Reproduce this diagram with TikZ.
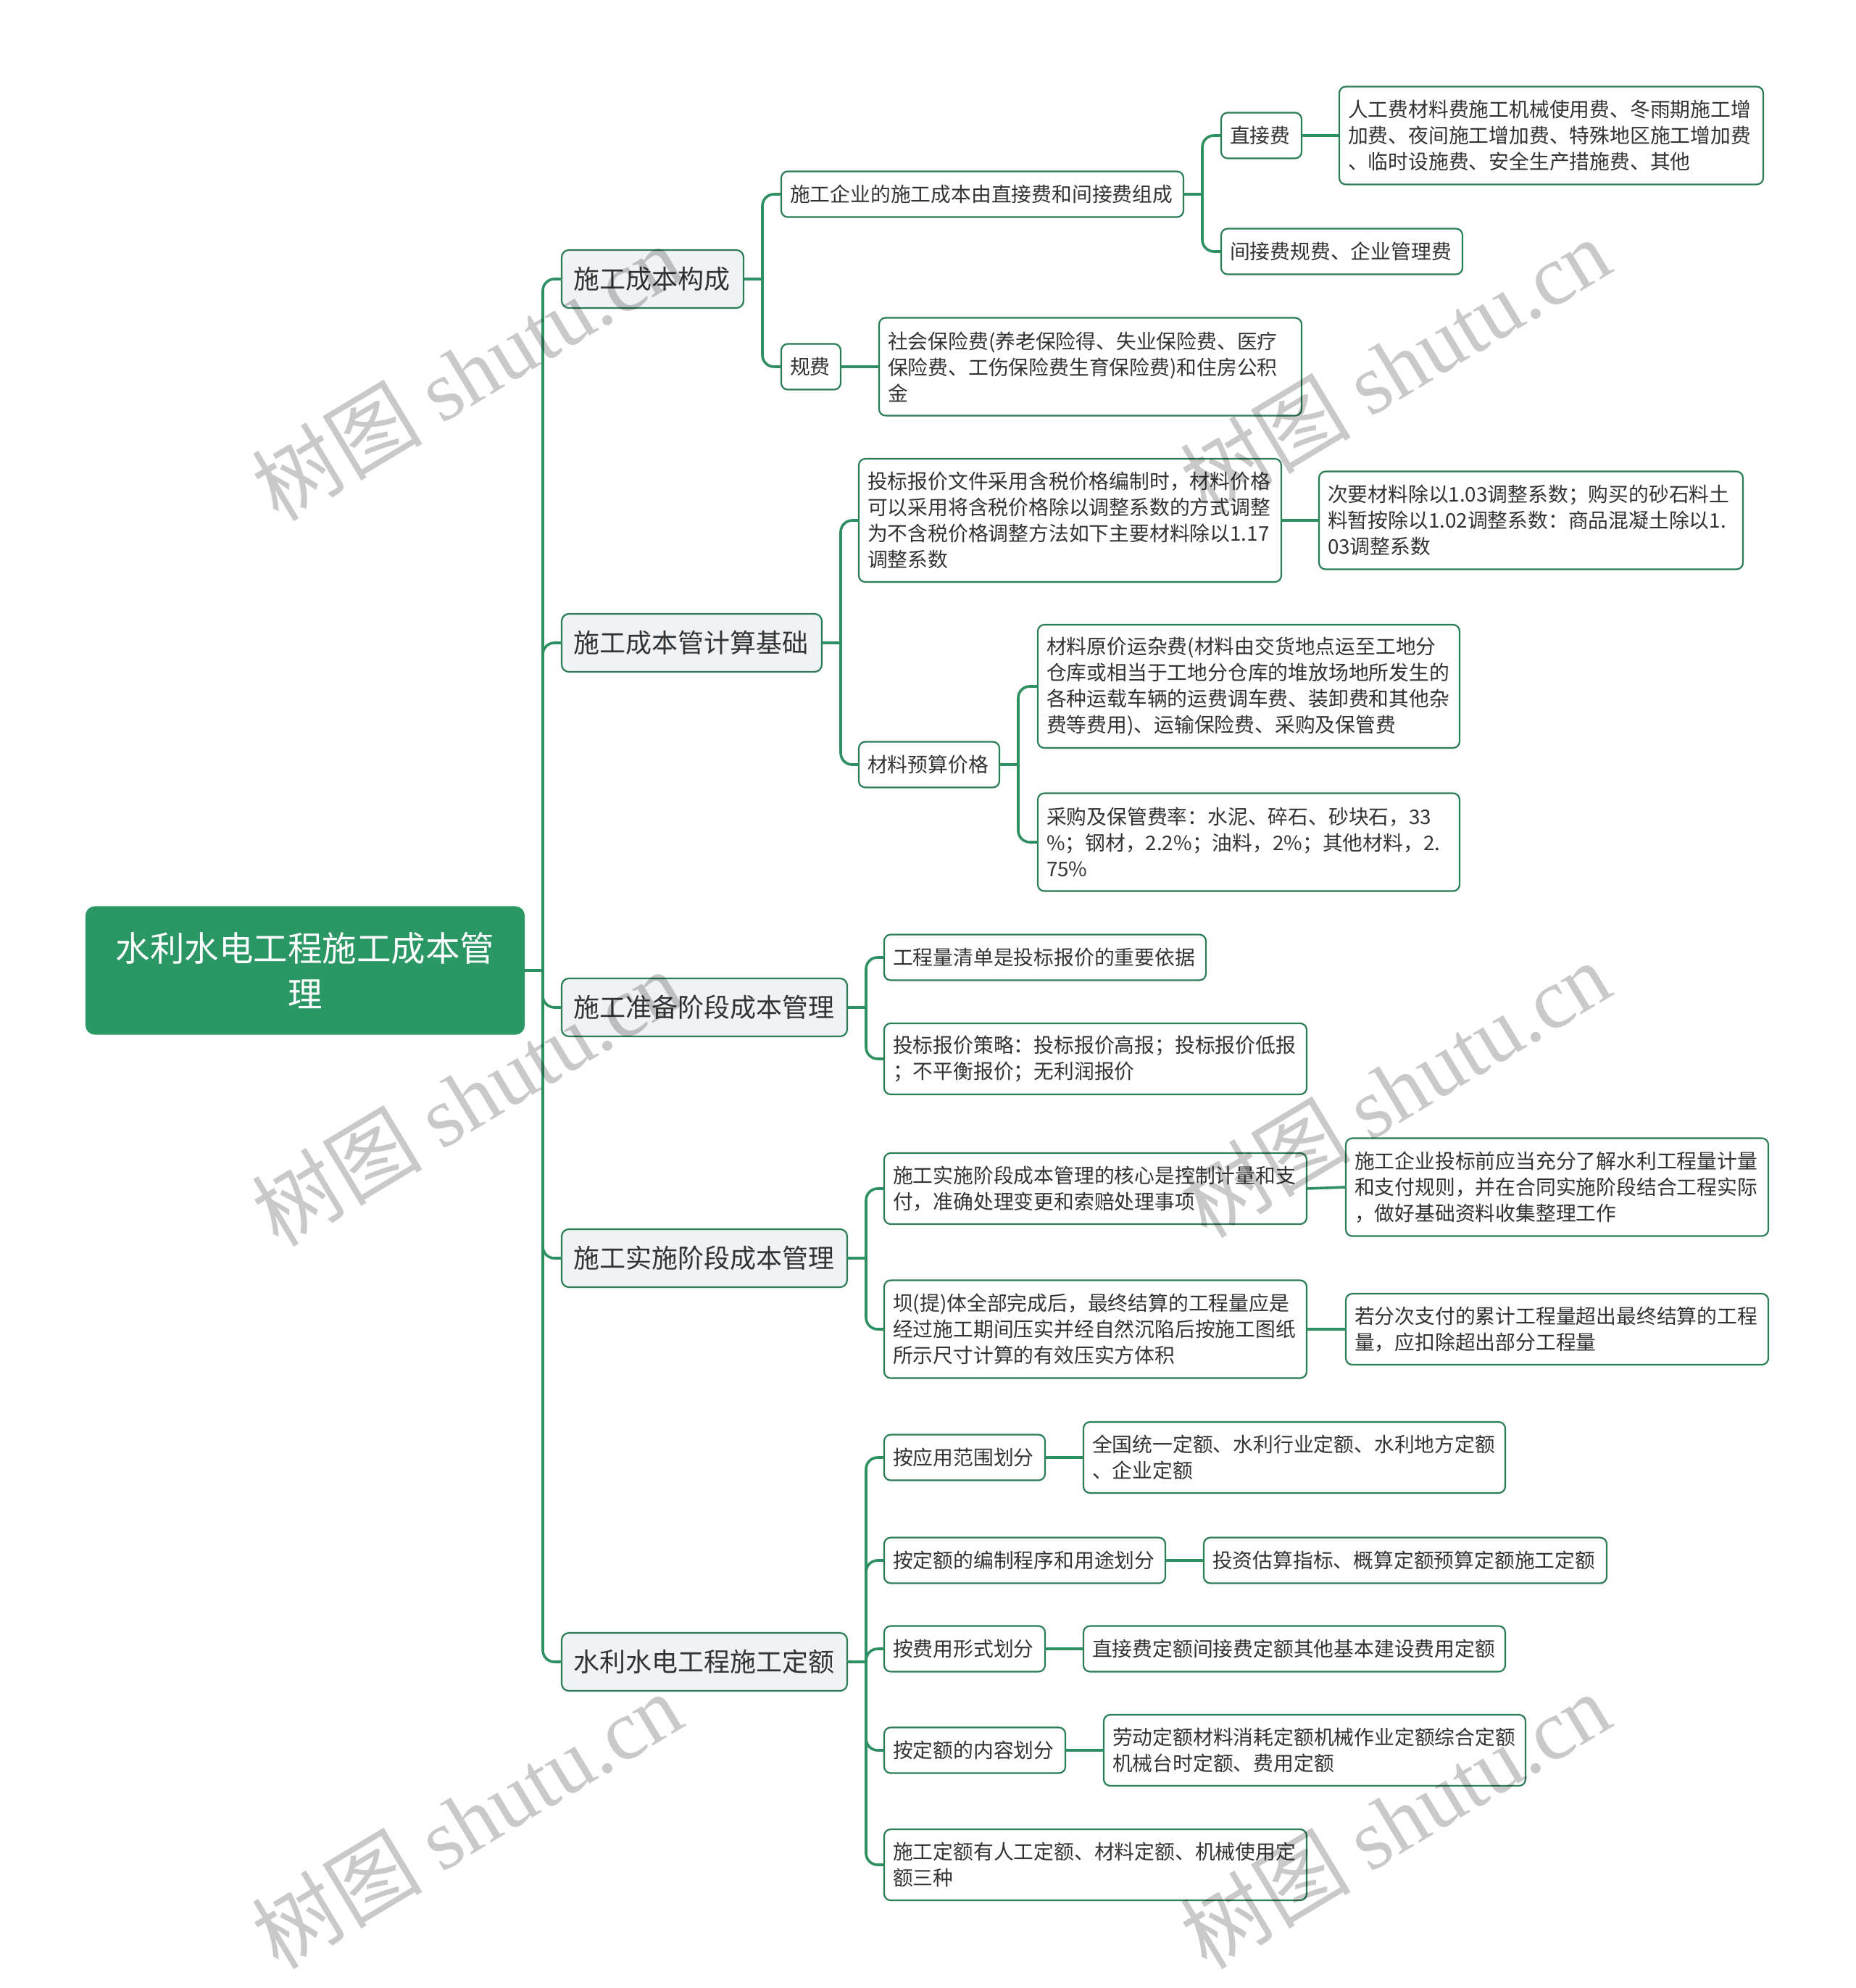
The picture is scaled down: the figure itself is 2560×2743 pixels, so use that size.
\documentclass[tikz,border=0pt]{standalone}
\usepackage{fontspec}
\setmainfont{Noto Sans CJK SC}
\newfontfamily\cjkfont{Noto Sans CJK SC}
\newfontfamily\wmserif{Liberation Serif}
\usetikzlibrary{calc}
\definecolor{linegreen}{HTML}{2E8F62}
\definecolor{bordergreen}{HTML}{2B7D56}
\definecolor{rootgreen}{HTML}{2A9765}
\definecolor{lonefill}{HTML}{EFF3F6}
\definecolor{txt}{HTML}{333333}
\definecolor{wmgray}{HTML}{C9C9C9}
\tikzset{
  base/.style={draw=bordergreen, line width=2.2pt, rounded corners=9pt, fill=white, align=left,
    inner ysep=0pt, outer sep=0pt, text=txt, font=\fontsize{27.8}{36}\selectfont},
  lone/.style={base, fill=lonefill, rounded corners=10pt, font=\fontsize{36}{44}\selectfont},
  rootst/.style={base, fill=rootgreen, draw=rootgreen, text=white, align=center, rounded corners=12pt,
    font=\fontsize{47.5}{63}\selectfont},
  conn/.style={draw=linegreen, line width=3.6pt, rounded corners=16pt},
  wmark/.style={text=wmgray, blend mode=multiply, rotate=31, font=\fontsize{118}{118}\selectfont},
}
% #1 style, #2 xsep, #3 name, #4 x1, #5 x2, #6 yc, #7 h, #8 text
\newcommand{\mybox}[8]{%
  \pgfmathsetmacro\mytw{#5-#4-2*#2}%
  \node[#1, inner xsep=#2pt, text width=\mytw pt, minimum height=#7pt, anchor=west] (#3) at (#4pt,-#6pt) {#8};}
\begin{document}
\begin{tikzpicture}[x=1pt,y=1pt]
\useasboundingbox (0,0) rectangle (2560,-2743);
\fill[white] (0,0) rectangle (2560,-2743);

% root
\mybox{rootst}{20}{root}{119}{723}{1339}{175}{水利水电工程施工成本管\\理}

% level 1
\mybox{lone}{16}{A}{775}{1026}{385}{80}{施工成本构成}
\mybox{lone}{16}{B}{775}{1134}{887}{80}{施工成本管计算基础}
\mybox{lone}{16}{C}{775}{1169}{1390}{80}{施工准备阶段成本管理}
\mybox{lone}{16}{D}{775}{1169}{1736}{80}{施工实施阶段成本管理}
\mybox{lone}{16}{E}{775}{1169}{2293}{80}{水利水电工程施工定额}

% A branch
\mybox{base}{12}{A1}{1078}{1633}{268}{63}{施工企业的施工成本由直接费和间接费组成}
\mybox{base}{12}{A2}{1078}{1160}{506}{63}{规费}
\mybox{base}{12}{A11}{1685}{1796}{187}{63}{直接费}
\mybox{base}{12}{A12}{1685}{2018}{347}{63}{间接费规费、企业管理费}
\mybox{base}{12}{A111}{1848}{2433}{187}{135}{人工费材料费施工机械使用费、冬雨期施工增\\加费、夜间施工增加费、特殊地区施工增加费\\、临时设施费、安全生产措施费、其他}
\mybox{base}{12}{A21}{1213}{1796}{506}{135}{社会保险费(养老保险得、失业保险费、医疗\\保险费、工伤保险费生育保险费)和住房公积\\金}

% B branch
\mybox{base}{12}{B1}{1185}{1768}{718}{170}{投标报价文件采用含税价格编制时，材料价格\\可以采用将含税价格除以调整系数的方式调整\\为不含税价格调整方法如下主要材料除以1.17\\调整系数}
\mybox{base}{12}{B11}{1820}{2405}{718}{135}{次要材料除以1.03调整系数；购买的砂石料土\\料暂按除以1.02调整系数：商品混凝土除以1.\\03调整系数}
\mybox{base}{12}{B2}{1185}{1379}{1055}{63}{材料预算价格}
\mybox{base}{12}{B21}{1432}{2014}{947}{170}{材料原价运杂费(材料由交货地点运至工地分\\仓库或相当于工地分仓库的堆放场地所发生的\\各种运载车辆的运费调车费、装卸费和其他杂\\费等费用)、运输保险费、采购及保管费}
\mybox{base}{12}{B22}{1432}{2014}{1162}{135}{采购及保管费率：水泥、碎石、砂块石，33\\\%；钢材，2.2\%；油料，2\%；其他材料，2.\\75\%}

% C branch
\mybox{base}{12}{C1}{1220}{1664}{1321}{63}{工程量清单是投标报价的重要依据}
\mybox{base}{12}{C2}{1220}{1803}{1461}{98}{投标报价策略：投标报价高报；投标报价低报\\；不平衡报价；无利润报价}

% D branch
\mybox{base}{12}{D1}{1220}{1803}{1640}{98}{施工实施阶段成本管理的核心是控制计量和支\\付，准确处理变更和索赔处理事项}
\mybox{base}{12}{D11}{1857}{2440}{1638}{135}{施工企业投标前应当充分了解水利工程量计量\\和支付规则，并在合同实施阶段结合工程实际\\，做好基础资料收集整理工作}
\mybox{base}{12}{D2}{1220}{1803}{1834}{135}{坝(提)体全部完成后，最终结算的工程量应是\\经过施工期间压实并经自然沉陷后按施工图纸\\所示尺寸计算的有效压实方体积}
\mybox{base}{12}{D21}{1857}{2440}{1834}{98}{若分次支付的累计工程量超出最终结算的工程\\量，应扣除超出部分工程量}

% E branch
\mybox{base}{12}{E1}{1220}{1442}{2011}{63}{按应用范围划分}
\mybox{base}{12}{E11}{1495}{2077}{2011}{98}{全国统一定额、水利行业定额、水利地方定额\\、企业定额}
\mybox{base}{12}{E2}{1220}{1608}{2153}{63}{按定额的编制程序和用途划分}
\mybox{base}{12}{E21}{1661}{2217}{2153}{63}{投资估算指标、概算定额预算定额施工定额}
\mybox{base}{12}{E3}{1220}{1442}{2275}{63}{按费用形式划分}
\mybox{base}{12}{E31}{1495}{2077}{2275}{63}{直接费定额间接费定额其他基本建设费用定额}
\mybox{base}{12}{E4}{1220}{1470}{2415}{63}{按定额的内容划分}
\mybox{base}{12}{E41}{1523}{2105}{2415}{98}{劳动定额材料消耗定额机械作业定额综合定额\\机械台时定额、费用定额}
\mybox{base}{12}{E5}{1220}{1803}{2573}{98}{施工定额有人工定额、材料定额、机械使用定\\额三种}

% buses
\coordinate (rootb) at ([xshift=26pt]root.east);
\coordinate (Ab) at ([xshift=26pt]A.east);
\coordinate (A1b) at ([xshift=26pt]A1.east);
\coordinate (Bb) at ([xshift=26pt]B.east);
\coordinate (B2b) at ([xshift=26pt]B2.east);
\coordinate (Cb) at ([xshift=26pt]C.east);
\coordinate (Db) at ([xshift=26pt]D.east);
\coordinate (Eb) at ([xshift=26pt]E.east);

\draw[conn] (root.east) -- (rootb);
\foreach \c in {A,B,C,D,E} \draw[conn] (rootb) |- (\c.west);
\draw[conn] (A.east) -- (Ab);
\foreach \c in {A1,A2} \draw[conn] (Ab) |- (\c.west);
\draw[conn] (A1.east) -- (A1b);
\foreach \c in {A11,A12} \draw[conn] (A1b) |- (\c.west);
\draw[conn] (A11.east) -- (A111.west);
\draw[conn] (A2.east) -- (A21.west);
\draw[conn] (B.east) -- (Bb);
\foreach \c in {B1,B2} \draw[conn] (Bb) |- (\c.west);
\draw[conn] (B1.east) -- (B11.west);
\draw[conn] (B2.east) -- (B2b);
\foreach \c in {B21,B22} \draw[conn] (B2b) |- (\c.west);
\draw[conn] (C.east) -- (Cb);
\foreach \c in {C1,C2} \draw[conn] (Cb) |- (\c.west);
\draw[conn] (D.east) -- (Db);
\foreach \c in {D1,D2} \draw[conn] (Db) |- (\c.west);
\draw[conn] (D1.east) -- (D11.west);
\draw[conn] (D2.east) -- (D21.west);
\draw[conn] (E.east) -- (Eb);
\foreach \c in {E1,E2,E3,E4,E5} \draw[conn] (Eb) |- (\c.west);
\draw[conn] (E1.east) -- (E11.west);
\draw[conn] (E2.east) -- (E21.west);
\draw[conn] (E3.east) -- (E31.west);
\draw[conn] (E4.east) -- (E41.west);

% watermarks
\node[wmark] (w1) at (644,-513) {\cjkfont 树图 \wmserif shutu.cn};
\node[wmark] (w2) at (1925,-504) {\cjkfont 树图 \wmserif shutu.cn};
\node[wmark] (w3) at (644,-1514) {\cjkfont 树图 \wmserif shutu.cn};
\node[wmark] (w4) at (1925,-1502) {\cjkfont 树图 \wmserif shutu.cn};
\node[wmark] (w5) at (644,-2511) {\cjkfont 树图 \wmserif shutu.cn};
\node[wmark] (w6) at (1925,-2511) {\cjkfont 树图 \wmserif shutu.cn};
\end{tikzpicture}
\end{document}
